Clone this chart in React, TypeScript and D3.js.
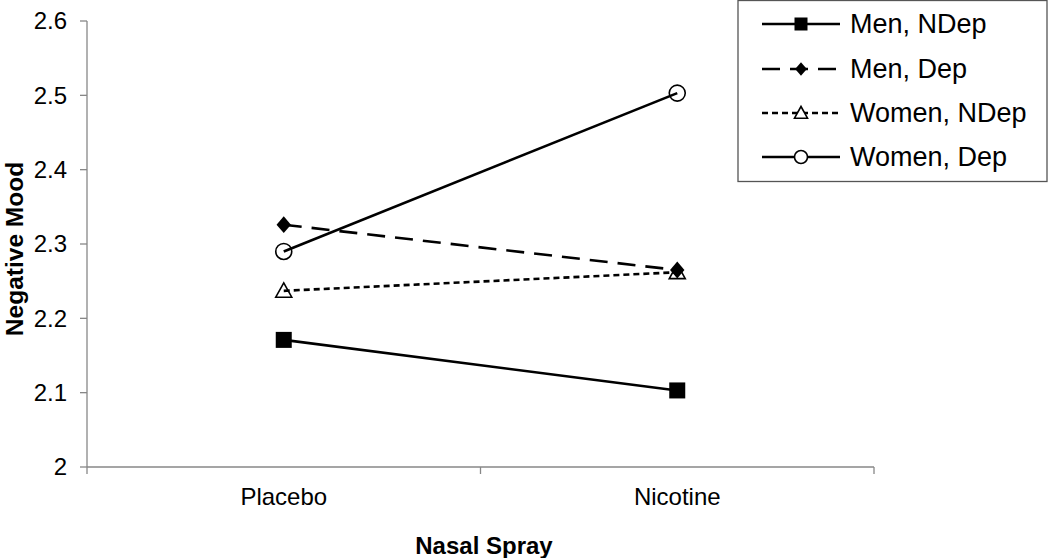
import { useMemo } from 'react';
import * as d3 from 'd3';

// categories on the x axis
const sprays = ['Placebo', 'Nicotine'];
// y tick values
const yTicks = [2, 2.1, 2.2, 2.3, 2.4, 2.5, 2.6];
// series names and values (Placebo, Nicotine)
const seriesNames = ['Men, NDep', 'Men, Dep', 'Women, NDep', 'Women, Dep'];
const menNDep = [2.171, 2.103];
const menDep = [2.326, 2.265];
const womenNDep = [2.237, 2.262];
const womenDep = [2.290, 2.503];

type Marker = 'square' | 'diamond' | 'triangle' | 'circle';

interface Series {
  name: string;
  values: number[];
  dash: string;
  marker: Marker;
}

const font = '"Liberation Sans", Arial, Helvetica, sans-serif';
const axisColor = '#878787';

function MarkerShape({ kind, x, y, s, fill }: { kind: Marker; x: number; y: number; s: number; fill: string }) {
  const h = s / 2;
  if (kind === 'square') {
    return <rect x={x - h} y={y - h} width={s} height={s} fill="#000" />;
  }
  if (kind === 'diamond') {
    const pts = [[x, y - h * 1.05], [x + h * 0.9, y], [x, y + h * 1.05], [x - h * 0.9, y]];
    return <polygon points={pts.map(p => p.join(',')).join(' ')} fill="#000" />;
  }
  if (kind === 'triangle') {
    const pts = [[x, y - h], [x + h, y + h * 0.8], [x - h, y + h * 0.8]];
    return <polygon points={pts.map(p => p.join(',')).join(' ')} fill={fill} stroke="#000" strokeWidth={1.6} />;
  }
  return <circle cx={x} cy={y} r={h} fill={fill} stroke="#000" strokeWidth={1.6} />;
}

export default function App() {
  const width = 1050;
  const height = 558;

  const series: Series[] = [
    { name: seriesNames[0], values: menNDep, dash: '', marker: 'square' },
    { name: seriesNames[1], values: menDep, dash: '18,10', marker: 'diamond' },
    { name: seriesNames[2], values: womenNDep, dash: '6,4', marker: 'triangle' },
    { name: seriesNames[3], values: womenDep, dash: '', marker: 'circle' },
  ];

  const x = useMemo(() => d3.scaleBand<string>().domain(sprays).range([87, 874]).padding(0), []);
  const y = useMemo(() => d3.scaleLinear().domain([2, 2.6]).range([467, 21]), []);
  const cx = (c: string) => (x(c) ?? 0) + x.bandwidth() / 2;
  const fmt = d3.format('~g');

  const line = d3.line<number>()
    .x((d, i) => cx(sprays[i]))
    .y(d => y(d));

  const xTickPos = [...sprays.map(c => x(c) ?? 0), 874];

  // legend layout
  const legendX = 738;
  const legendRows = [24, 69, 113, 157];

  return (
    <svg width={width} height={height} style={{ position: 'absolute', left: 0, top: 0, background: '#fff' }} fontFamily={font}>
      {/* y axis */}
      <line x1={87} x2={87} y1={y(2.6)} y2={y(2)} stroke={axisColor} strokeWidth={1.3} />
      {yTicks.map(t => (
        <g key={t}>
          <line x1={80} x2={87} y1={y(t)} y2={y(t)} stroke={axisColor} strokeWidth={1.3} />
          <text x={67} y={y(t)} dy="0.35em" textAnchor="end" fontSize={24} fill="#000">{fmt(t)}</text>
        </g>
      ))}
      {/* x axis */}
      <line x1={87} x2={874} y1={y(2)} y2={y(2)} stroke={axisColor} strokeWidth={1.3} />
      {xTickPos.map((p, i) => (
        <line key={i} x1={p} x2={p} y1={y(2)} y2={y(2) + 7} stroke={axisColor} strokeWidth={1.3} />
      ))}
      {sprays.map(c => (
        <text key={c} x={cx(c)} y={505} textAnchor="middle" fontSize={24} fill="#000">{c}</text>
      ))}
      <text x={484} y={554} textAnchor="middle" fontSize={24} fontWeight="bold" fill="#000">Nasal Spray</text>
      <text transform={`translate(23,249) rotate(-90)`} textAnchor="middle" fontSize={24.5} fontWeight="bold" fill="#000">Negative Mood</text>

      {/* series */}
      {series.map(s => (
        <path key={s.name} d={line(s.values) ?? ''} fill="none" stroke="#000" strokeWidth={2.6} strokeDasharray={s.dash || undefined} />
      ))}
      {series.map(s => s.values.map((v, i) => (
        <MarkerShape key={s.name + i} kind={s.marker} x={cx(sprays[i])} y={y(v)} s={16} fill="none" />
      )))}

      {/* legend */}
      <rect x={legendX} y={0.5} width={309} height={181} fill="#fff" stroke="#555" strokeWidth={1.3} />
      {series.map((s, i) => (
        <g key={s.name}>
          <line x1={762} x2={840} y1={legendRows[i]} y2={legendRows[i]} stroke="#000" strokeWidth={2.6} strokeDasharray={s.dash || undefined} />
          <MarkerShape kind={s.marker} x={801} y={legendRows[i]} s={13} fill="#fff" />
          <text x={850} y={legendRows[i]} dy="0.35em" fontSize={27} fill="#000">{s.name}</text>
        </g>
      ))}
    </svg>
  );
}
